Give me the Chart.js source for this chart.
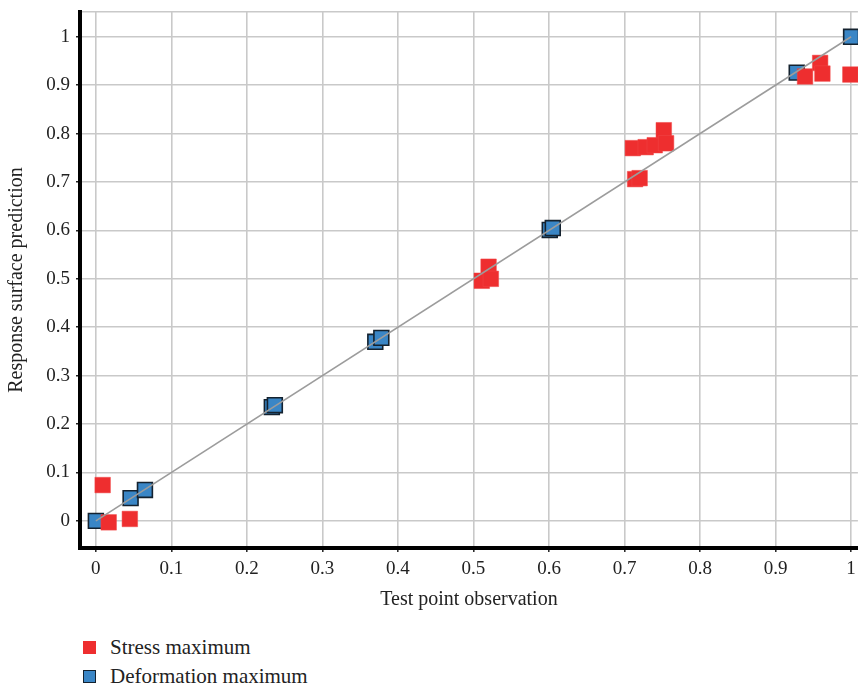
<!DOCTYPE html>
<html>
<head>
<meta charset="utf-8">
<script src="https://cdn.jsdelivr.net/npm/chart.js@4.4.1/dist/chart.umd.min.js"></script>
<style>
  html, body { margin: 0; padding: 0; background: #ffffff; }
  #wrap { position: relative; width: 858px; height: 684px; overflow: hidden; }
  #chart { position: absolute; left: 0; top: 0; }
  #legend { position: absolute; left: 83px; top: 633px; font-family: "Liberation Serif", "DejaVu Serif", serif; font-size: 21px; color: #222; }
  .item { display: flex; align-items: center; height: 29px; }
  .box { width: 13px; height: 13px; margin-right: 14px; box-sizing: border-box; }
</style>
</head>
<body>
<div id="wrap">
  <canvas id="chart" width="858" height="612"></canvas>
  <div id="legend"></div>
</div>
<script>
// Observed vs. predicted values at the test points
const stressObs  = [0.009, 0.017, 0.045, 0.511, 0.520, 0.523, 0.711, 0.714, 0.720, 0.728, 0.740, 0.752, 0.755, 0.939, 0.959, 0.962, 0.999];
const stressPred = [0.074, -0.003, 0.004, 0.496, 0.525, 0.500, 0.770, 0.706, 0.708, 0.772, 0.776, 0.807, 0.780, 0.918, 0.946, 0.924, 0.922];
const deformObs  = [0.000, 0.046, 0.065, 0.233, 0.237, 0.370, 0.378, 0.601, 0.605, 0.928, 1.000];
const deformPred = [0.000, 0.047, 0.064, 0.235, 0.239, 0.370, 0.378, 0.601, 0.605, 0.926, 1.000];
const idealLine  = [0, 1];
const seriesNames = ['Stress maximum', 'Deformation maximum'];
const tickValues = [0, 0.1, 0.2, 0.3, 0.4, 0.5, 0.6, 0.7, 0.8, 0.9, 1];

const RED = '#ee2e2f';
const BLUE = '#3a86c6';
const BLUE_EDGE = '#14222f';
const GRID = '#c9c9c9';
const FONT = '"Liberation Serif", "DejaVu Serif", serif';
const PLOT_HEIGHT = 612;
const X_ONE_PIXEL = 851;   // where x = 1 sits; the axis range ends at the window edge

const toPoints = (xs, ys) => xs.map((x, i) => ({ x: x, y: ys[i] }));
const isMainTick = v => tickValues.some(t => Math.abs(t - v) < 1e-9);
const tickText = v => {
  const t = tickValues.find(t => Math.abs(t - v) < 1e-9);
  if (t === undefined) return '';
  return (t === 0 || t === 1) ? String(t) : t.toFixed(1);
};

const chart = new Chart(document.getElementById('chart'), {
  type: 'scatter',
  data: {
    datasets: [
      {
        type: 'line',
        label: 'y = x',
        data: toPoints(idealLine, idealLine),
        borderColor: '#9c9c9c',
        borderWidth: 1.6,
        pointRadius: 0,
        fill: false,
        order: 0
      },
      {
        label: seriesNames[0],
        data: toPoints(stressObs, stressPred),
        pointStyle: 'rect',
        pointRadius: 11,
        pointHoverRadius: 11,
        backgroundColor: RED,
        borderColor: '#f04848',
        borderWidth: 0.5,
        order: 1
      },
      {
        label: seriesNames[1],
        data: toPoints(deformObs, deformPred),
        pointStyle: 'rect',
        pointRadius: 10.5,
        pointHoverRadius: 10.5,
        backgroundColor: BLUE,
        borderColor: BLUE_EDGE,
        borderWidth: 1.6,
        order: 2
      }
    ]
  },
  options: {
    responsive: false,
    maintainAspectRatio: false,
    animation: false,
    devicePixelRatio: 1,
    layout: { padding: { left: 0, right: 0, top: 10, bottom: 0 } },
    plugins: {
      legend: { display: false },
      tooltip: { enabled: false }
    },
    scales: {
      x: {
        type: 'linear',
        min: -0.021,
        max: 1.009,
        afterBuildTicks: s => { s.ticks = tickValues.map(v => ({ value: v })); },
        ticks: {
          autoSkip: false,
          maxRotation: 0,
          padding: 6,
          color: '#222',
          font: { family: FONT, size: 19 },
          callback: v => tickText(v)
        },
        grid: {
          color: GRID,
          lineWidth: 1.6,
          tickLength: 4,
          tickColor: '#222',
          tickWidth: 1.5
        },
        border: { display: true, color: '#000', width: 4 },
        title: {
          display: true,
          text: 'Test point observation',
          color: '#222',
          font: { family: FONT, size: 20 },
          padding: { top: 2, bottom: 0 }
        },
        afterFit: s => { s.height = 64; s.paddingLeft = 0; s.paddingRight = 0; }
      },
      y: {
        type: 'linear',
        min: -0.056,
        max: 1.051,
        afterBuildTicks: s => { s.ticks = tickValues.concat([1.051]).map(v => ({ value: v })); },
        ticks: {
          autoSkip: false,
          padding: 6,
          color: '#222',
          font: { family: FONT, size: 19 },
          callback: v => tickText(v)
        },
        grid: {
          color: GRID,
          lineWidth: 1.6,
          tickLength: 4,
          tickColor: ctx => isMainTick(ctx.tick.value) ? '#222' : 'rgba(0,0,0,0)',
          tickWidth: 1.5
        },
        border: { display: true, color: '#000', width: 4 },
        title: {
          display: true,
          text: 'Response surface prediction',
          color: '#222',
          font: { family: FONT, size: 20 },
          padding: { top: 5, bottom: 0 }
        },
        afterFit: s => { s.width = 80; s.paddingTop = 0; s.paddingBottom = 0; }
      }
    }
  }
});

// Widen the canvas (the wrapper crops it) until x = 1 lands at its column,
// so the plot area runs out to the window edge
for (let pass = 0; pass < 4; pass++) {
  const diff = X_ONE_PIXEL - chart.scales.x.getPixelForValue(1);
  if (Math.abs(diff) < 0.5) break;
  chart.resize(Math.round(chart.width + diff * 1.03), PLOT_HEIGHT);
}

// Legend built from the chart's own datasets: stress first, then deformation
const legendEl = document.getElementById('legend');
[1, 2].forEach(i => {
  const ds = chart.data.datasets[i];
  const row = document.createElement('div');
  row.className = 'item';
  const box = document.createElement('div');
  box.className = 'box';
  box.style.background = ds.backgroundColor;
  if (i === 2) box.style.border = '1.5px solid ' + BLUE_EDGE;
  const label = document.createElement('span');
  label.textContent = ds.label;
  row.appendChild(box);
  row.appendChild(label);
  legendEl.appendChild(row);
});
</script>
</body>
</html>
